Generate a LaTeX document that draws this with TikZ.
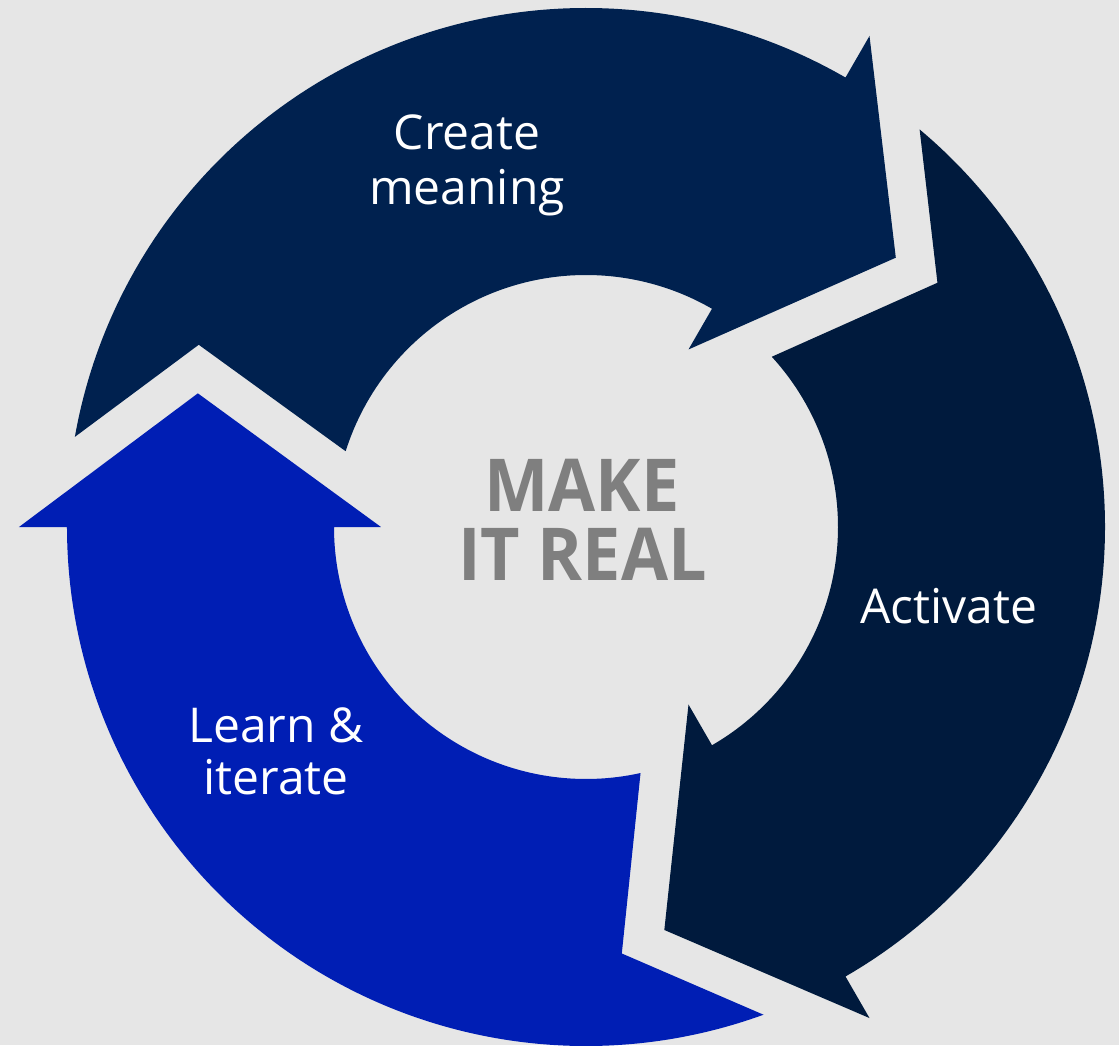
\documentclass[tikz,border=0pt]{standalone}
\usepackage{fontspec}
\setmainfont{Open Sans}
\newfontfamily\midfont[FakeStretch=0.935]{Open Sans}
\definecolor{bgc}{HTML}{E6E6E6}
\definecolor{topc}{HTML}{00214F}
\definecolor{rightc}{HTML}{001A3D}
\definecolor{leftc}{HTML}{001EB4}
\definecolor{midc}{HTML}{7F7F7F}
\tikzset{
  lbl/.style={text=white, inner sep=0pt, anchor=base, font=\fontsize{48}{54}\selectfont},
  midlbl/.style={text=midc, inner sep=0pt, anchor=base, font=\midfont\fontsize{73}{73}\selectfont\bfseries},
  cyclearrow/.pic={
    \fill[pic actions] (290:519) arc[start angle=290, end angle=180, radius=519]
      -- (180:567) -- (161:410.5) -- (180:205) -- (180:252)
      arc[start angle=180, end angle=282.5, radius=252]
      -- (274.8:428) -- cycle;
  }
}
\begin{document}
\begin{tikzpicture}[x=1pt,y=1pt]
\useasboundingbox (-586,-518) rectangle (533,527);
\fill[bgc] (-586,-518) rectangle (533,527);
% arrows
\pic[fill=leftc] (learnarrow) {cyclearrow};
\pic[fill=topc, rotate=-120] (createarrow) {cyclearrow};
\pic[fill=rightc, rotate=120] (activatearrow) {cyclearrow};
% labels
\node[lbl] (create1) at (-119,377.5) {Create};
\node[lbl] (create2) at (-119,322) {meaning};
\node[lbl] (activate) at (363,-96) {Activate};
\node[lbl] (learn1) at (-310,-215) {Learn \&};
\node[lbl] (learn2) at (-310,-267) {iterate};
\node[midlbl] (make1) at (-4,16) {MAKE};
\node[midlbl] (make2) at (-3.5,-53) {IT REAL};
\end{tikzpicture}
\end{document}
